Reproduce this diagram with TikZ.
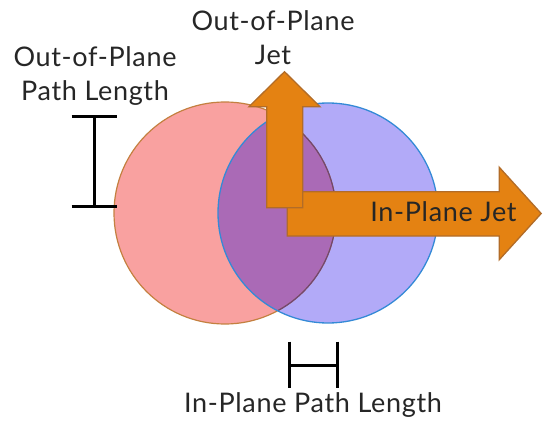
\documentclass[tikz,border=0pt]{standalone}
\usepackage{fontspec}
\setmainfont{Lato}[LetterSpace=2.5]
\definecolor{redfill}{RGB}{249,161,160}
\definecolor{redline}{RGB}{196,128,64}
\definecolor{bluefill}{RGB}{178,170,248}
\definecolor{blueline}{RGB}{52,138,214}
\definecolor{overlap}{RGB}{170,106,182}
\definecolor{jetfill}{RGB}{228,130,18}
\definecolor{jetline}{RGB}{178,108,40}
\begin{document}
\begin{tikzpicture}[x=1pt,y=-1pt,
  lbl/.style={font=\fontsize{27}{34}\selectfont, text=black!85, inner sep=0pt, align=center},
  jet/.style={fill=jetfill, draw=jetline, line width=1.3pt, line join=miter},
  bar/.style={line width=3pt, black}]
\useasboundingbox (0,0) rectangle (543,422);
% circles
\coordinate (rc) at (225,213);
\coordinate (bc) at (328,213);
\fill[redfill] (rc) circle (111);
\fill[bluefill] (bc) circle (110);
\begin{scope}
  \clip (rc) circle (111);
  \fill[overlap] (bc) circle (110);
\end{scope}
\draw[redline, line width=1.2pt] (rc) circle (111);
\begin{scope}
  \clip (bc) circle (110);
  \draw[black!35!overlap, line width=1.2pt] (rc) circle (111);
\end{scope}
\draw[blueline, line width=1.3pt] (bc) circle (110);
% in-plane jet
\draw[jet] (287.3,191.7) -- (499.3,191.7) -- (499.3,167.3) -- (541.2,213.5)
  -- (499.3,259.7) -- (499.3,236) -- (287.3,236) -- cycle;
% out-of-plane jet
\draw[jet] (266.7,207.7) -- (266.7,106.7) -- (249,106.7) -- (284.5,71.7)
  -- (320,106.7) -- (302.7,106.7) -- (302.7,207.7) -- cycle;
% path length bars
\coordinate (ot) at (94,116.7);
\coordinate (ob) at (94,206.7);
\draw[bar] (ot) -- (ob);
\draw[bar] (71.7,116.7) -- (116.7,116.7);
\draw[bar] (71.7,206.7) -- (116.7,206.7);
\coordinate (il) at (289,365.7);
\coordinate (ir) at (337.3,365.7);
\draw[bar] (il) -- (ir);
\draw[bar] (289,341.7) -- (289,388.3);
\draw[bar] (337.3,341.7) -- (337.3,388.3);
% labels
\node[lbl, anchor=north] (oppl) at (95,46) {Out-of-Plane\\Path Length};
\node[lbl, anchor=north] (opj) at (273,10) {Out-of-Plane\\Jet};
\node[lbl, anchor=base] (ipj) at (443.5,221.7) {In-Plane Jet};
\node[lbl, anchor=base] (ippl) at (313,412) {In-Plane Path Length};
\end{tikzpicture}
\end{document}
